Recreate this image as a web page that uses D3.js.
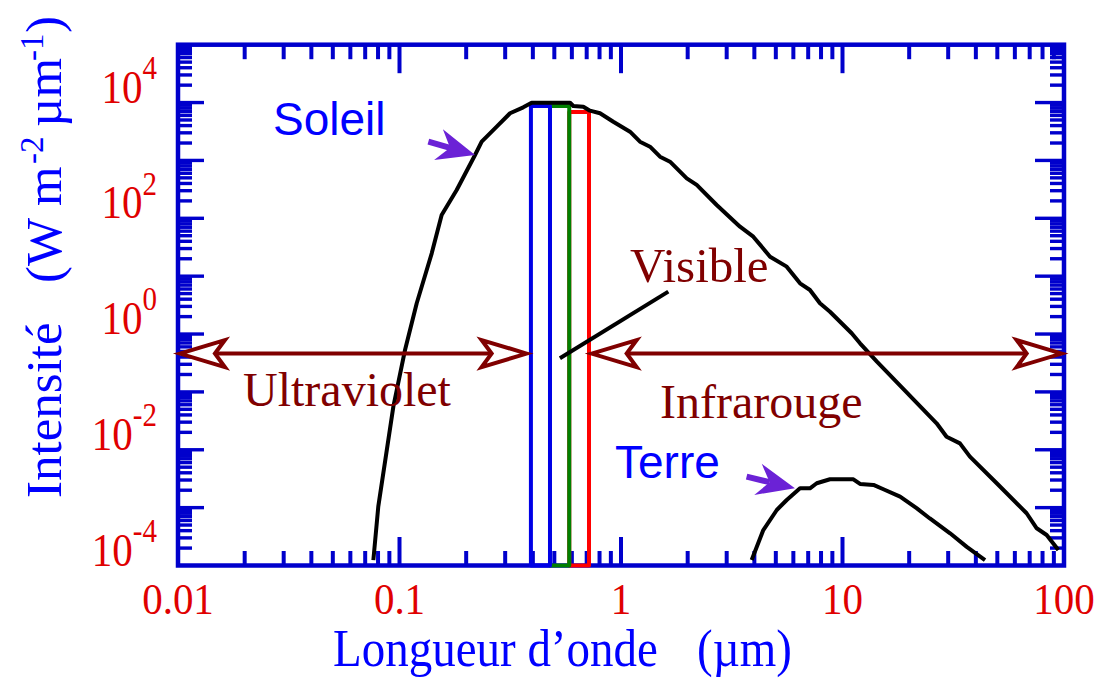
<!DOCTYPE html>
<html><head><meta charset="utf-8">
<script src="https://cdn.jsdelivr.net/npm/d3@7"></script>
<style>body{margin:0;background:#fff}svg{display:block}</style>
</head><body><svg id="c" width="1118" height="686"></svg>
<script>
// ---- data ----
const sunWavelength = [0.0762,0.0802,0.0938,0.1059,0.1196,0.1398,0.155,0.1812,0.2193,0.235,0.2747,0.3155,0.362,0.395,0.589,0.609,0.676,0.724,0.804,0.923,1.098,1.218,1.352,1.50,1.664,1.981,2.197,2.704,3.445,3.956,4.71,5.60,6.43,7.13,7.91,8.78,11.0,12.0,14.3,26.6,29.5,33.9,37.6,49.7,67.8,75.3,83.5,94.3];
const sunIntensity = [1.24e-4,1.04e-3,0.0556,0.53,3.4,24.8,114,308,1242,2108,3830,6530,8280,9950,9950,8730,8490,7240,6530,4670,3140,2110,1727,1160,951,491,377,170,71.6,48.1,21.7,14.6,7.53,5.77,3.40,2.43,1.03,0.692,0.333,0.0287,0.0168,0.0129,0.0076,0.00264,8.0e-4,4.4e-4,3.37e-4,1.85e-4];
const earthWavelength = [3.89,4.39,5.05,5.60,6.43,7.13,7.65,8.78,11.2,12.0,13.8,15.3,18.2,21.6,24.8,30.6,36.4,44.0];
const earthIntensity = [1.24e-4,4.1e-4,9.1e-4,1.355e-3,2.16e-3,2.16e-3,2.64e-3,3.09e-3,3.09e-3,2.57e-3,2.47e-3,2.08e-3,1.55e-3,9.8e-4,6.5e-4,3.6e-4,2.1e-4,1.24e-4];
const bandNames = ["bleu","vert","rouge"];
const bandStart = [0.392,0.478,0.584];
const bandEnd = [0.478,0.584,0.717];
const bandTop = [8730,8730,6870];
const bandColors = ["#0000e6","#008000","#ff0000"];
const xTickValues = [0.01,0.1,1,10,100];
const xTickLabels = ["0.01","0.1","1","10","100"];
const yTickExponents = [4,2,0,-2,-4];
const uvRange = [0.0102,0.375];
const irRange = [0.737,97.6];
const rangeLevel = 0.46;

// ---- layout ----
const L=178,R=1064,T=44.7,B=565.5;
const x=d3.scaleLog().domain([0.01,100]).range([L,R]);
const y=d3.scaleLog().domain([1e-4,1e5]).range([B,T]);
const svg=d3.select("#c");
const blue="#0000cc", dred="#800000", purple="#6b22d6", tickRed="#e00000";
const serif="'Liberation Serif','Times New Roman',serif";
const sans="'Liberation Sans',Arial,sans-serif";

// ---- frame ticks ----
const isMajor=v=>Math.abs(Math.log10(v)-Math.round(Math.log10(v)))<1e-6;
const xt=x.ticks(40).filter(v=>v>0.0100001&&v<99.999);
const yt=y.ticks(40).filter(v=>v>1.00001e-4&&v<0.99999e5);
const tg=svg.append("g").attr("stroke",blue).attr("stroke-width",4);
xt.forEach(v=>{
  const len=isMajor(v)?28.5:14.5;
  tg.append("line").attr("x1",x(v)).attr("x2",x(v)).attr("y1",T).attr("y2",T+len);
  tg.append("line").attr("x1",x(v)).attr("x2",x(v)).attr("y1",B).attr("y2",B-len);
});
yt.forEach(v=>{
  const lenL=isMajor(v)?26:14, lenR=isMajor(v)?29:14;
  tg.append("line").attr("y1",y(v)).attr("y2",y(v)).attr("x1",L).attr("x2",L+lenL).attr("stroke-width",3.4);
  tg.append("line").attr("y1",y(v)).attr("y2",y(v)).attr("x1",R).attr("x2",R-lenR).attr("stroke-width",3.4);
});
svg.append("rect").attr("x",L).attr("y",T).attr("width",R-L).attr("height",B-T)
  .attr("fill","none").attr("stroke",blue).attr("stroke-width",4.5);

// ---- visible bands (red, green, blue order) ----
const bands=bandNames.map((n,i)=>({n,s:bandStart[i],e:bandEnd[i],t:bandTop[i],c:bandColors[i]})).reverse();
svg.append("g").selectAll("rect").data(bands).join("rect")
  .attr("x",d=>x(d.s)).attr("width",d=>x(d.e)-x(d.s))
  .attr("y",d=>y(d.t)).attr("height",d=>y(1e-4)-y(d.t))
  .attr("fill","none").attr("stroke",d=>d.c).attr("stroke-width",4).attr("stroke-linejoin","round");

// ---- curves ----
const line=d3.line().x(d=>x(d[0])).y(d=>y(d[1]));
svg.append("path").attr("d",line(d3.zip(sunWavelength,sunIntensity)))
  .attr("fill","none").attr("stroke","#000").attr("stroke-width",4).attr("stroke-linejoin","round");
svg.append("path").attr("d",line(d3.zip(earthWavelength,earthIntensity)))
  .attr("fill","none").attr("stroke","#000").attr("stroke-width",4).attr("stroke-linejoin","round");

// ---- range arrows (hollow heads) ----
function hollowHead(px,py,dir){
  const hl=45,nt=35,hw=13.5;
  const p=[[0,0],[-hl,-hw],[-nt,0],[-hl,hw]].map(q=>[px+dir*q[0],py+q[1]]);
  svg.append("path").attr("d","M"+p.join("L")+"Z").attr("fill","#fff")
    .attr("stroke",dred).attr("stroke-width",4).attr("stroke-linejoin","miter");
}
[uvRange,irRange].forEach(r=>{
  const yy=y(rangeLevel), x1=x(r[0]), x2=x(r[1]);
  svg.append("line").attr("x1",x1+35).attr("x2",x2-35).attr("y1",yy).attr("y2",yy)
    .attr("stroke",dred).attr("stroke-width",4);
  hollowHead(x1,yy,-1); hollowHead(x2,yy,1);
});

// ---- purple pointer arrows ----
function solidArrow(t0,t1){
  const ax=x(t0[0]),ay=y(t0[1]),bx=x(t1[0]),by=y(t1[1]);
  const dx=bx-ax,dy=by-ay,l=Math.hypot(dx,dy),ux=dx/l,uy=dy/l,nx=-uy,ny=ux;
  const hl=38,nt=26,hw=16;
  svg.append("line").attr("x1",ax).attr("y1",ay).attr("x2",bx-ux*nt).attr("y2",by-uy*nt)
    .attr("stroke",purple).attr("stroke-width",6);
  const pts=[[bx,by],[bx-ux*hl+nx*hw,by-uy*hl+ny*hw],[bx-ux*nt,by-uy*nt],[bx-ux*hl-nx*hw,by-uy*hl-ny*hw]];
  svg.append("path").attr("d","M"+pts.join("L")+"Z").attr("fill",purple);
}
solidArrow([0.135,2110],[0.2193,1242]);
solidArrow([3.69,3.43e-3],[6.10,2.16e-3]);

// visible pointer line
svg.append("line").attr("x1",x(1.635)).attr("y1",y(5.4)).attr("x2",x(0.530)).attr("y2",y(0.381))
  .attr("stroke","#000").attr("stroke-width",4);

// ---- tick labels ----
xTickValues.forEach((v,i)=>{
  svg.append("text").attr("transform",`translate(${x(v)},614) scale(1,1.1)`)
    .attr("text-anchor","middle").attr("font-family",serif).attr("font-size",41).attr("fill",tickRed)
    .text(xTickLabels[i]);
});
yTickExponents.forEach(k=>{
  const t=svg.append("text").attr("transform",`translate(157,${y(Math.pow(10,k))}) scale(1,1.13)`)
    .attr("text-anchor","end").attr("font-family",serif).attr("font-size",41).attr("fill",tickRed);
  t.append("tspan").text("10");
  t.append("tspan").attr("dy",-21).attr("font-size",29).text(String(k));
});

// ---- axis titles ----
svg.append("text").attr("transform","translate(333,666) scale(1,1.12)")
  .attr("font-family",serif).attr("font-size",47).attr("fill","#0000ff").text("Longueur d\u2019onde");
svg.append("text").attr("transform","translate(697,666) scale(1,1.12)")
  .attr("font-family",serif).attr("font-size",47).attr("fill","#0000ff").text("(\u00b5m)");
const yt2=svg.append("text").attr("transform","translate(61,498) rotate(-90)")
  .attr("font-family",serif).attr("font-size",51).attr("fill","#0000ff");
yt2.append("tspan").attr("x",0).attr("y",0).text("Intensit\u00e9");
yt2.append("tspan").attr("x",215).attr("y",0).text("(W m");
yt2.append("tspan").attr("x",334).attr("y",-18).attr("font-size",33).text("-2");
yt2.append("tspan").attr("x",371).attr("y",0).text("\u00b5m");
yt2.append("tspan").attr("x",437).attr("y",-18).attr("font-size",33).text("-1");
yt2.append("tspan").attr("x",465).attr("y",0).text(")");

// ---- annotations ----
const ann=(tx,ty,s,fam,size,col)=>svg.append("text").attr("x",tx).attr("y",ty)
  .attr("font-family",fam).attr("font-size",size).attr("fill",col).text(s);
ann(273,135,"Soleil",sans,46,"#0000ff");
ann(615,478,"Terre",sans,46,"#0000ff");
ann(630,282,"Visible",serif,49,dred);
ann(243,406,"Ultraviolet",serif,48,dred);
ann(660,418,"Infrarouge",serif,48,dred);
</script></body></html>
